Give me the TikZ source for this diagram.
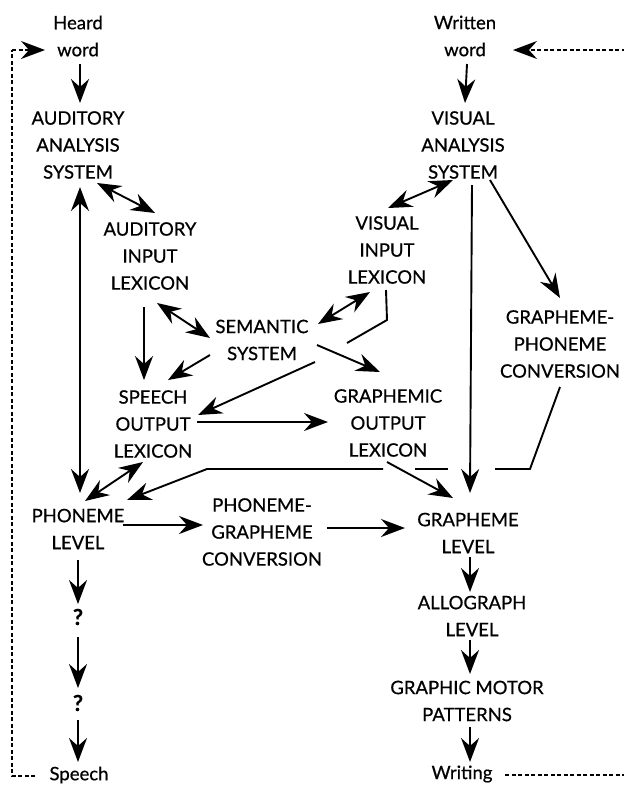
\documentclass[tikz,border=0pt]{standalone}
\usepackage{fontspec}
\setmainfont{Lato}[FakeBold=0.6]
\usetikzlibrary{arrows.meta}

\tikzset{
  box/.style={align=center,inner sep=2pt,font=\fontsize{18.5}{27}\selectfont},
  qbox/.style={inner sep=2pt,font=\fontsize{22}{27}\selectfont\bfseries},
  arr/.style={line width=1.9pt,-{Stealth[length=24pt,width=18pt,inset=8pt]}},
  biarr/.style={line width=1.9pt,{Stealth[length=24pt,width=18pt,inset=8pt]}-{Stealth[length=24pt,width=18pt,inset=8pt]}},
  link/.style={line width=1.9pt},
  loopback/.style={line width=1.6pt,dash pattern=on 4pt off 2.5pt}
}

\begin{document}
\begin{tikzpicture}[x=1pt,y=-1pt]
\useasboundingbox (0,0) rectangle (624,785);
% boxes
\node[box] (heard) at (78,36) {Heard\\word};
\node[box] (written) at (465,36) {Written\\word};
\node[box] (aas) at (78,145) {AUDITORY\\ANALYSIS\\SYSTEM};
\node[box] (vas) at (463,145) {VISUAL\\ANALYSIS\\SYSTEM};
\node[box] (ail) at (150,256) {AUDITORY\\INPUT\\LEXICON};
\node[box] (vil) at (387,250) {VISUAL\\INPUT\\LEXICON};
\node[box] (sem) at (262,340) {SEMANTIC\\SYSTEM};
\node[box] (gpc) at (560,344) {GRAPHEME-\\PHONEME\\CONVERSION};
\node[box] (sol) at (153,424) {SPEECH\\OUTPUT\\LEXICON};
\node[box] (gol) at (388,423) {GRAPHEMIC\\OUTPUT\\LEXICON};
\node[box] (pl) at (78,529) {PHONEME\\LEVEL};
\node[box] (pgc) at (262,532) {PHONEME-\\GRAPHEME\\CONVERSION};
\node[box] (gl) at (468,533) {GRAPHEME\\LEVEL};
\node[box] (al) at (472,616) {ALLOGRAPH\\LEVEL};
\node[box] (gmp) at (467,701) {GRAPHIC MOTOR\\PATTERNS};
\node[qbox] (q1) at (78,617) {?};
\node[qbox] (q2) at (78,703) {?};
\node[box] (speech) at (79,775) {Speech};
\node[box] (writing) at (462,774) {Writing};

% bends and breaks
\coordinate (vilbend) at (387,320);
\coordinate (vilgapA) at (347,343);
\coordinate (vilgapB) at (315,362);
\coordinate (gpcbend) at (530,469);
\coordinate (gapA) at (495,469);
\coordinate (gapB) at (448,469);
\coordinate (gapC) at (415,469);
\coordinate (gapD) at (383,469);
\coordinate (plbend) at (207,469);
\coordinate (spcorner) at (12,776);
\coordinate (hwcorner) at (12,50);
\coordinate (wrcorner) at (632,775);
\coordinate (wwcorner) at (632,50);

% auditory side
\draw[arr] ([shift={(2,28)}]heard.center) -- ([shift={(2,-42)}]aas.center);
\draw[biarr] ([shift={(19,38)}]aas.center) -- ([shift={(5,-43)}]ail.center);
\draw[biarr] ([shift={(2,42)}]aas.center) -- ([shift={(2,-36)}]pl.center);
\draw[biarr] ([shift={(7,47)}]ail.center) -- ([shift={(-52,-2)}]sem.center);
\draw[arr] ([shift={(-6,51)}]ail.center) -- ([shift={(-9,-44)}]sol.center);
\draw[arr] ([shift={(-52,15)}]sem.center) -- ([shift={(15,-44)}]sol.center);
\draw[arr] ([shift={(44,-2)}]sol.center) -- ([shift={(-60,-1)}]gol.center);
\draw[biarr] ([shift={(-10,38)}]sol.center) -- ([shift={(7,-28)}]pl.center);

% visual side
\draw[arr] ([shift={(2,28)}]written.center) -- ([shift={(2,-42)}]vas.center);
\draw[biarr] ([shift={(1,-42)}]vil.center) -- ([shift={(-10,35)}]vas.center);
\draw[biarr] ([shift={(56,-16)}]sem.center) -- ([shift={(-17,42)}]vil.center);
\draw[link] ([shift={(-1,40)}]vil.center) -- (vilbend) -- (vilgapA);
\draw[arr] (vilgapB) -- ([shift={(45,-9)}]sol.center);
\draw[arr] ([shift={(55,5)}]sem.center) -- ([shift={(-8,-51)}]gol.center);
\draw[arr] ([shift={(9,40)}]vas.center) -- ([shift={(2,-40)}]gl.center);
\draw[arr] ([shift={(27,35)}]vas.center) -- ([shift={(0,-46)}]gpc.center);
\draw[link] ([shift={(0,43)}]gpc.center) -- (gpcbend) -- (gapA);
\draw[link] (gapB) -- (gapC);
\draw[arr] (gapD) -- (plbend) -- ([shift={(49,-29)}]pl.center);
\draw[arr] ([shift={(-1,39)}]gol.center) -- ([shift={(-15,-35)}]gl.center);

% lower rows
\draw[arr] ([shift={(45,-4)}]pl.center) -- ([shift={(-59,-7)}]pgc.center);
\draw[arr] ([shift={(65,-4)}]pgc.center) -- ([shift={(-63,-5)}]gl.center);
\draw[arr] ([shift={(2,24)}]gl.center) -- ([shift={(-2,-24)}]al.center);
\draw[arr] ([shift={(-2,24)}]al.center) -- ([shift={(3,-27)}]gmp.center);
\draw[arr] ([shift={(3,26)}]gmp.center) -- ([shift={(8,-12)}]writing.center);
\draw[arr] ([shift={(0,31)}]pl.center) -- ([shift={(0,-13)}]q1.center);
\draw[arr] ([shift={(0,20)}]q1.center) -- ([shift={(0,-15)}]q2.center);
\draw[arr] ([shift={(0,17)}]q2.center) -- ([shift={(-1,-13)}]speech.center);

% feedback loops
\draw[loopback] ([shift={(-44,1)}]speech.center) -- (spcorner) -- (hwcorner);
\draw[loopback,-{Stealth[length=24pt,width=18pt,inset=8pt]}] (hwcorner) -- ([shift={(-33,14)}]heard.center);
\draw[loopback] ([shift={(43,1)}]writing.center) -- (wrcorner) -- (wwcorner);
\draw[loopback,-{Stealth[length=24pt,width=18pt,inset=8pt]}] (wwcorner) -- ([shift={(48,14)}]written.center);
\end{tikzpicture}
\end{document}
